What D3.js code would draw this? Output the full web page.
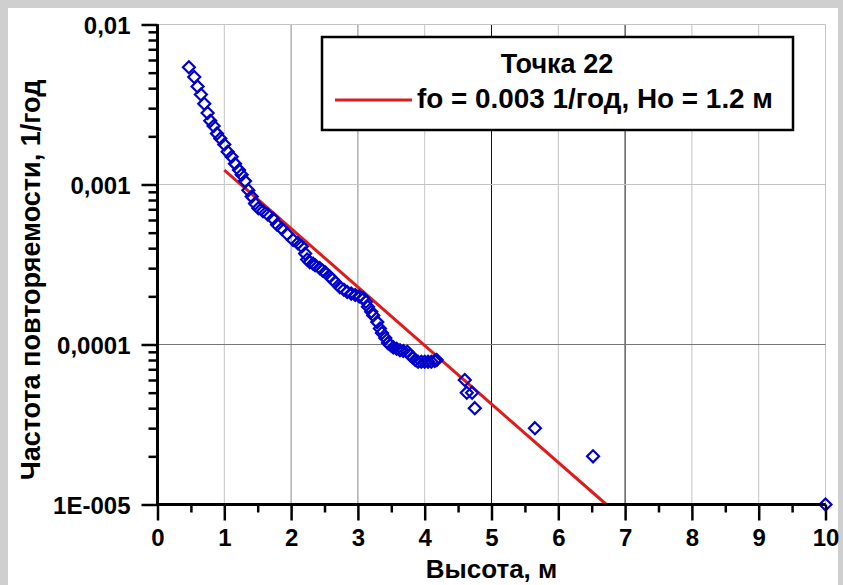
<!DOCTYPE html>
<html>
<head>
<meta charset="utf-8">
<script src="https://cdn.jsdelivr.net/npm/d3@7"></script>
<style>
  html, body { margin: 0; padding: 0; background: #cfcfcf; }
  svg { display: block; }
  text { font-family: "Liberation Sans", Arial, sans-serif; font-weight: bold; fill: #000; }
</style>
</head>
<body>
<svg id="chart" width="843" height="585"></svg>
<script>
// observed points: height (m) and exceedance frequency (1/year)
const heights = [
  0.47, 0.55, 0.60, 0.65, 0.70, 0.75, 0.79, 0.84, 0.89, 0.94, 1.00, 1.05, 1.11, 1.16, 1.22, 1.26,
  1.31, 1.36, 1.41, 1.46, 1.51, 1.58, 1.65, 1.73, 1.79, 1.86, 1.94, 2.03, 2.10, 2.16, 2.21, 2.24,
  2.28, 2.33, 2.36, 2.43, 2.47, 2.51, 2.58, 2.62, 2.66, 2.73, 2.79, 2.84, 2.90, 2.96, 3.02, 3.08,
  3.12, 3.15, 3.20, 3.23, 3.29, 3.33, 3.36, 3.41, 3.45, 3.49, 3.53, 3.58, 3.63, 3.68, 3.74, 3.78,
  3.82, 3.86, 3.90, 3.95, 4.00, 4.05, 4.10, 4.15, 4.18,
  4.60, 4.63, 4.71, 4.75, 5.65, 6.52, 10.0
];
const freqs = [
  5.4e-3, 4.7e-3, 4.1e-3, 3.65e-3, 3.2e-3, 2.8e-3, 2.5e-3, 2.32e-3, 2.08e-3, 1.94e-3, 1.78e-3, 1.6e-3, 1.49e-3, 1.35e-3, 1.23e-3, 1.15e-3,
  1.05e-3, 9.2e-4, 8.4e-4, 7.6e-4, 7.1e-4, 6.8e-4, 6.5e-4, 6.1e-4, 5.6e-4, 5.3e-4, 4.9e-4, 4.5e-4, 4.3e-4, 4.1e-4, 3.7e-4, 3.4e-4,
  3.27e-4, 3.2e-4, 3.13e-4, 3.0e-4, 2.9e-4, 2.83e-4, 2.65e-4, 2.55e-4, 2.45e-4, 2.28e-4, 2.2e-4, 2.13e-4, 2.08e-4, 2.04e-4, 2.0e-4, 1.95e-4,
  1.85e-4, 1.72e-4, 1.6e-4, 1.52e-4, 1.38e-4, 1.26e-4, 1.18e-4, 1.1e-4, 1.02e-4, 9.9e-5, 9.6e-5, 9.4e-5, 9.2e-5, 9.1e-5, 9.0e-5, 8.6e-5,
  8.3e-5, 8.0e-5, 7.8e-5, 7.8e-5, 7.8e-5, 7.8e-5, 7.8e-5, 7.9e-5, 8.0e-5,
  6e-5, 5e-5, 5e-5, 4e-5, 3e-5, 2e-5, 1e-5
];
// fitted line fo = 0.003 1/год, Ho = 1.2 м (end points)
const fitH = [1.0, 6.72];
const fitF = [1.23e-3, 1e-5];

const xTicks = [0, 1, 2, 3, 4, 5, 6, 7, 8, 9, 10];
const yTicks = [1e-2, 1e-3, 1e-4, 1e-5];
const yTickLabels = ["0,01", "0,001", "0,0001", "1E-005"];
const legendTitle = "Точка 22";
const legendLabel = "fo = 0.003 1/год, Ho = 1.2 м";
const xTitle = "Высота, м";
const yTitle = "Частота повторяемости, 1/год";

const svg = d3.select("#chart");
const pLeft = 157.5, pRight = 825.5, pTop = 24.5, pBottom = 504.5;

const x = d3.scaleLinear().domain([0, 10]).range([pLeft, pRight]);
const y = d3.scaleLog().domain([1e-5, 1e-2]).range([pBottom, pTop]);

// white panel
svg.append("rect").attr("x", 8).attr("y", 8).attr("width", 830).attr("height", 590).attr("fill", "#fff");

// grid
const vColor = v => (v === 5 || v === 7) ? "#111" : (v === 2 || v === 3) ? "#888" : "#c4c4c4";
svg.append("g").selectAll("line").data(xTicks.filter(d => d > 0)).join("line")
  .attr("x1", d => x(d)).attr("x2", d => x(d)).attr("y1", pTop).attr("y2", pBottom)
  .attr("stroke", vColor).attr("stroke-width", 1);
const hColor = v => v === 1e-4 ? "#777" : "#c4c4c4";
svg.append("g").selectAll("line").data(yTicks.filter(d => d > 1e-5)).join("line")
  .attr("x1", pLeft).attr("x2", pRight).attr("y1", d => y(d)).attr("y2", d => y(d))
  .attr("stroke", hColor).attr("stroke-width", 1);

// legend box
const lg = svg.append("g");
lg.append("rect").attr("x", 322).attr("y", 37).attr("width", 471).attr("height", 93)
  .attr("fill", "#fff").attr("stroke", "#000").attr("stroke-width", 2.5);
lg.append("text").attr("x", 557).attr("y", 73).attr("text-anchor", "middle")
  .style("font-size", "27px").text(legendTitle);
lg.append("line").attr("x1", 335).attr("x2", 412).attr("y1", 100).attr("y2", 100)
  .attr("stroke", "#dd1c1c").attr("stroke-width", 3);
lg.append("text").attr("x", 417).attr("y", 108).style("font-size", "27px")
  .attr("textLength", 356).attr("lengthAdjust", "spacingAndGlyphs").text(legendLabel);

// fitted line
svg.append("path")
  .datum(fitH.map((h, i) => [h, fitF[i]]))
  .attr("d", d3.line().x(d => x(d[0])).y(d => y(d[1])))
  .attr("fill", "none").attr("stroke", "#dd1c1c").attr("stroke-width", 3);

// diamonds
const r = 6;
svg.append("g").selectAll("path").data(heights.map((h, i) => [h, freqs[i]])).join("path")
  .attr("d", d => `M${x(d[0])},${y(d[1]) - r}L${x(d[0]) + r},${y(d[1])}L${x(d[0])},${y(d[1]) + r}L${x(d[0]) - r},${y(d[1])}Z`)
  .attr("fill", "none").attr("stroke", "#0000cc").attr("stroke-width", 2.2);

// y axis
const yAxis = svg.append("g").attr("transform", `translate(${pLeft},0)`);
const yMinor = [];
for (let e = -5; e < -2; e++) for (let m = 2; m <= 9; m++) yMinor.push(m * Math.pow(10, e));
yAxis.call(d3.axisLeft(y).tickValues(yMinor).tickSize(9).tickFormat(""));
yAxis.append("g").call(d3.axisLeft(y).tickValues(yTicks).tickSize(16).tickPadding(11)
  .tickFormat((d, i) => yTickLabels[i]));
yAxis.selectAll(".domain").attr("stroke", "#000").attr("stroke-width", 3).attr("d", `M0,${pTop}V${pBottom}`);
yAxis.selectAll(".tick line").attr("stroke", "#000").attr("stroke-width", 2.5);
yAxis.selectAll(".tick text").style("font-size", "24px").attr("dy", "0.36em");

// x axis
const xAxis = svg.append("g").attr("transform", `translate(0,${pBottom})`);
xAxis.call(d3.axisBottom(x).tickValues(d3.range(0.5, 10, 1)).tickSize(8).tickFormat(""));
xAxis.append("g").call(d3.axisBottom(x).tickValues(xTicks).tickSize(16).tickPadding(8).tickFormat(d3.format("d")));
xAxis.selectAll(".domain").attr("stroke", "#000").attr("stroke-width", 3).attr("d", `M${pLeft},0H${pRight}`);
xAxis.selectAll(".tick line").attr("stroke", "#000").attr("stroke-width", 2.5);
xAxis.selectAll(".tick text").style("font-size", "24px");

// axis titles
svg.append("text").attr("x", (pLeft + pRight) / 2).attr("y", 578).attr("text-anchor", "middle")
  .style("font-size", "26px").text(xTitle);
svg.append("text").attr("transform", "translate(40,280) rotate(-90)").attr("text-anchor", "middle")
  .style("font-size", "27px").text(yTitle);
</script>
</body>
</html>
